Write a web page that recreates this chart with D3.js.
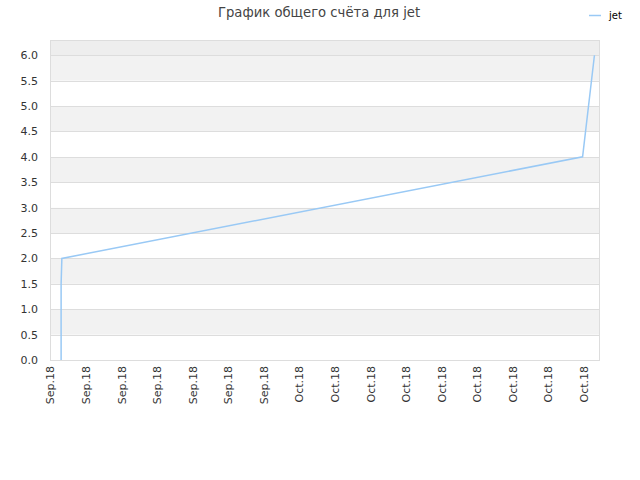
<!DOCTYPE html>
<html><head><meta charset="utf-8">
<script src="https://cdn.jsdelivr.net/npm/d3@7"></script>
<style>body{margin:0;background:#fff;font-family:"DejaVu Sans",sans-serif;}</style>
</head><body><svg id="c" width="640" height="480"></svg>
<script>
const title = "График общего счёта для jet";
const seriesName = "jet";
const times = ["2018-09-18T15:00","2018-09-18T15:00","2018-09-18T16:00","2018-10-17T22:30","2018-10-18T14:30"];
const values = [0, 1.5, 2.0, 4.0, 6.0];
const tickDates = ["2018-09-18","2018-09-20","2018-09-22","2018-09-24","2018-09-26","2018-09-28","2018-09-30","2018-10-02","2018-10-04","2018-10-06","2018-10-08","2018-10-10","2018-10-12","2018-10-14","2018-10-16","2018-10-18"];
const tickLabels = ["Sep.18","Sep.18","Sep.18","Sep.18","Sep.18","Sep.18","Sep.18","Oct.18","Oct.18","Oct.18","Oct.18","Oct.18","Oct.18","Oct.18","Oct.18","Oct.18"];
const yTicks = [0,0.5,1,1.5,2,2.5,3,3.5,4,4.5,5,5.5,6];
const xDomain = ["2018-09-18T00:00","2018-10-18T22:00"];
const yDomain = [0, 6.3];

const parse = d3.isoParse;
const svg = d3.select("#c");
const L=50,R=600,T=40,B=360;
const x = d3.scaleTime().domain(xDomain.map(parse)).range([L,R]);
const y = d3.scaleLinear().domain(yDomain).range([B,T]);

// bands
const bandEdges = yTicks.concat([yDomain[1]]);
for(let i=0;i<bandEdges.length-1;i++){
  const fill = i===bandEdges.length-2 ? "#eeeeee" : (i%2===1 ? "#f2f2f2" : "#ffffff");
  svg.append("rect").attr("x",L).attr("width",R-L)
    .attr("y",y(bandEdges[i+1])).attr("height",y(bandEdges[i])-y(bandEdges[i+1]))
    .attr("fill",fill);
}
// grid lines
svg.append("g").selectAll("line").data(yTicks).join("line")
  .attr("x1",L).attr("x2",R).attr("y1",d=>Math.round(y(d))+0.5).attr("y2",d=>Math.round(y(d))+0.5)
  .attr("stroke","#dddddd");
svg.append("rect").attr("x",L+0.5).attr("y",T+0.5).attr("width",R-L-1).attr("height",B-T)
  .attr("fill","none").attr("stroke","#dddddd");

// y axis
const ya = d3.axisLeft(y).tickValues(yTicks).tickFormat(d3.format(".1f")).tickSize(0).tickPadding(12);
const yg = svg.append("g").attr("transform",`translate(${L},0)`).call(ya);
yg.select(".domain").remove();
yg.selectAll("text").attr("fill","#333").style("font-size","11px").style("font-family","DejaVu Sans");

// x axis
const tdates = tickDates.map(parse);
const xa = d3.axisBottom(x).tickValues(tdates).tickFormat((d,i)=>tickLabels[i]).tickSize(0).tickPadding(0);
const xg = svg.append("g").attr("transform",`translate(0,${B})`).call(xa);
xg.select(".domain").remove();
xg.selectAll("text").attr("fill","#333").style("font-size","11px").style("font-family","DejaVu Sans")
  .attr("transform","rotate(-90)").attr("text-anchor","end").attr("x",-6).attr("y",0).attr("dy","0.35em");

// line
const pts = times.map((t,i)=>[parse(t),values[i]]);
svg.append("path").datum(pts).attr("fill","none").attr("stroke","#99c9f5").attr("stroke-width",1.5)
  .attr("d",d3.line().x(d=>x(d[0])).y(d=>y(d[1])));

// title
svg.append("text").attr("x",319).attr("y",17).attr("text-anchor","middle").attr("fill","#444")
  .style("font-size","13.2px").style("font-family","DejaVu Sans").text(title);
// legend
svg.append("line").attr("x1",589).attr("x2",601).attr("y1",15.5).attr("y2",15.5).attr("stroke","#99c9f5").attr("stroke-width",1.5);
svg.append("text").attr("x",609).attr("y",19).attr("fill","#000").style("font-size","10px").style("font-family","DejaVu Sans").text(seriesName);
</script></body></html>
